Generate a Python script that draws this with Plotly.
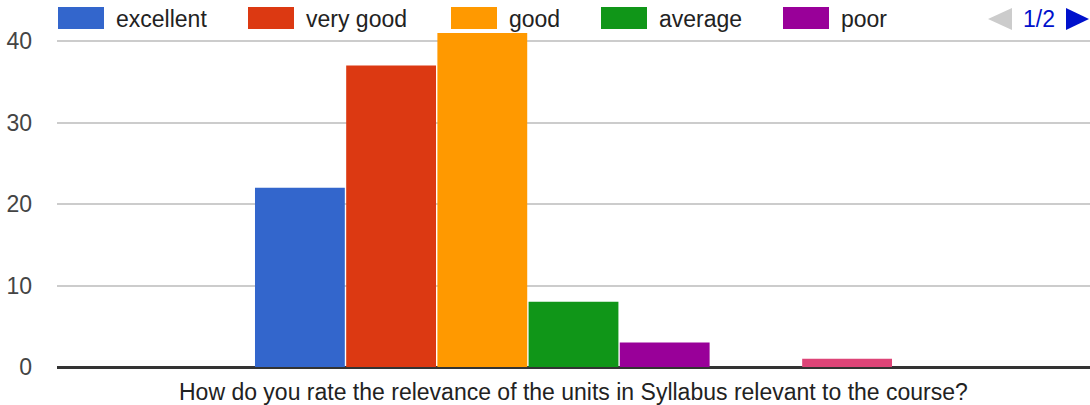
import plotly.graph_objects as go

# ---- data ----
question = ["How do you rate the relevance of the units in Syllabus relevant to the course?"]
series_names = ["excellent", "very good", "good", "average", "poor", "very poor", "not applicable"]
series_values = [22, 37, 41, 8, 3, 0, 1]
series_colors = ["#3366cc", "#dc3912", "#ff9900", "#109618", "#990099", "#0099c6", "#dd4477"]
y_ticks = [0, 10, 20, 30, 40]
legend_page_size = 5
page_label = "1/2"

# ---- layout constants (pixels) ----
W, H = 1090, 405
ML, MR, MT, MB = 57, 0, 33, 38
PW, PH = W - ML - MR, H - MT - MB
FONT = "Liberation Sans, Arial, sans-serif"
FS = 23


def px_x(x):
    return (x - ML) / PW


def px_y(y):
    return (H - MB - y) / PH


fig = go.Figure()
for name, val, col in zip(series_names, series_values, series_colors):
    fig.add_trace(go.Bar(
        x=question, y=[val], name=name, marker=dict(color=col, line=dict(width=0)),
        showlegend=False,
    ))

shapes = []
annotations = []
# custom legend (page 1)
legend_x = [58, 248, 451, 601, 783]
for lx, name, col in zip(legend_x, series_names[:legend_page_size], series_colors[:legend_page_size]):
    shapes.append(dict(type="rect", xref="paper", yref="paper",
                       x0=px_x(lx), x1=px_x(lx + 46), y0=px_y(29), y1=px_y(7),
                       fillcolor=col, line=dict(width=0), layer="above"))
    annotations.append(dict(text=name, xref="paper", yref="paper",
                            x=px_x(lx + 56), y=px_y(18.5), xanchor="left", yanchor="middle",
                            showarrow=False, font=dict(family=FONT, size=FS, color="#222222")))

# paginator
shapes.append(dict(type="path", xref="paper", yref="paper",
                   path=f"M {px_x(1012)} {px_y(8)} L {px_x(988)} {px_y(19)} L {px_x(1012)} {px_y(30)} Z",
                   fillcolor="#cccccc", line=dict(width=0)))
shapes.append(dict(type="path", xref="paper", yref="paper",
                   path=f"M {px_x(1066)} {px_y(8)} L {px_x(1089)} {px_y(19)} L {px_x(1066)} {px_y(30)} Z",
                   fillcolor="#0011cc", line=dict(width=0)))
annotations.append(dict(text=page_label, xref="paper", yref="paper",
                        x=px_x(1039), y=px_y(18.5), xanchor="center", yanchor="middle",
                        showarrow=False, font=dict(family=FONT, size=FS, color="#0011cc")))

# x-axis title
annotations.append(dict(text=question[0], xref="paper", yref="paper",
                        x=0.5, y=px_y(392), xanchor="center", yanchor="middle",
                        showarrow=False, font=dict(family=FONT, size=FS, color="#222222")))

fig.update_layout(
    width=W, height=H,
    margin=dict(l=ML, r=MR, t=MT, b=MB, pad=0),
    paper_bgcolor="white", plot_bgcolor="white",
    barmode="group", bargap=0.382, bargroupgap=0.015,
    showlegend=False,
    shapes=shapes, annotations=annotations,
    xaxis=dict(showticklabels=False, showgrid=False, zeroline=False, showline=False, fixedrange=True),
    yaxis=dict(range=[0, 41], tickvals=y_ticks, ticktext=[str(t) for t in y_ticks],
               showgrid=True, gridcolor="#cccccc", gridwidth=2,
               zeroline=True, zerolinecolor="#333333", zerolinewidth=3,
               showline=False, ticks="", ticklabelstandoff=24,
               tickfont=dict(family=FONT, size=FS, color="#444444")),
    font=dict(family=FONT),
)

fig.write_html("out.html", config={"displayModeBar": False},
               post_script="document.body.style.margin='0';document.body.style.overflow='hidden';")
